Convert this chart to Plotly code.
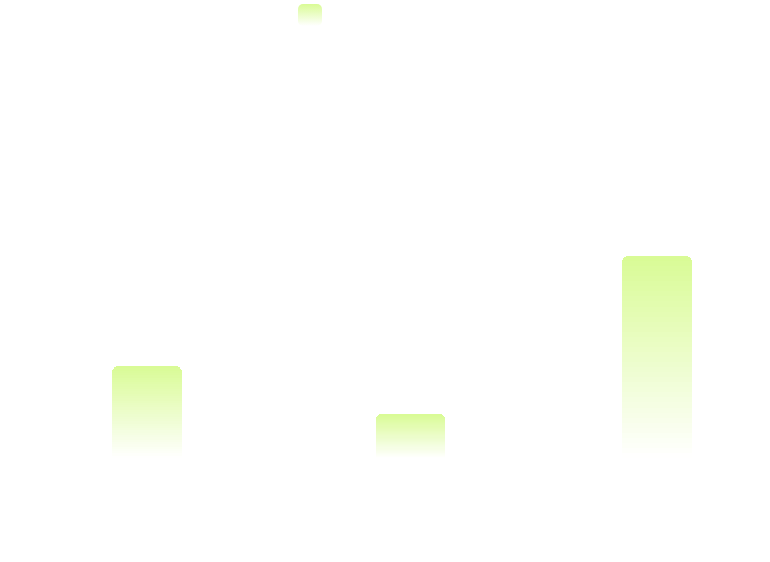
import plotly.graph_objects as go

# monthly totals
dates = ["2024-01-01", "2024-02-01", "2024-03-01"]
values = [46, 22, 101]

# lime at the top of each bar, fading to white at the base
top_rgb = (217, 251, 149)
n_slices = 40
day_ms = 86400000

fig = go.Figure()

# each bar is stacked from thin slices so it can fade top to bottom
for i in range(n_slices):
    t = (i + 0.5) / n_slices
    r, g, b = [round(255 + (c - 255) * t) for c in top_rgb]
    fig.add_trace(go.Bar(
        x=dates,
        y=[v / n_slices for v in values],
        width=8.2 * day_ms,
        marker_color=f"rgb({r},{g},{b})",
        marker_line_width=0,
        hoverinfo="skip",
        showlegend=False,
    ))

# small gradient swatch used as legend key at the top
swatch_svg = (
    "data:image/svg+xml;utf8,"
    "<svg xmlns='http://www.w3.org/2000/svg' width='24' height='22'>"
    "<defs><linearGradient id='g' x1='0' y1='0' x2='0' y2='1'>"
    "<stop offset='0' stop-color='rgb(217,251,149)'/>"
    "<stop offset='1' stop-color='white'/>"
    "</linearGradient></defs>"
    "<rect width='24' height='22' rx='5' ry='5' fill='url(%23g)'/></svg>"
)

fig.update_layout(
    width=770,
    height=562,
    margin=dict(l=0, r=0, t=40, b=104),
    barmode="stack",
    barcornerradius=6,
    paper_bgcolor="white",
    plot_bgcolor="white",
    showlegend=False,
    xaxis=dict(type="date", visible=False,
               range=["2023-12-14 17:00", "2024-03-14 07:00"]),
    yaxis=dict(visible=False, range=[0, 209]),
    images=[dict(
        source=swatch_svg,
        xref="paper", yref="paper",
        x=298 / 770, y=(458 - 4) / 418,
        sizex=24 / 770, sizey=22 / 418,
        sizing="stretch", xanchor="left", yanchor="top",
        layer="above",
    )],
)

# drop the page's default body margin so the chart sits at the corner
fig.write_html("out.html",
               config={"displayModeBar": False},
               post_script="document.body.style.margin='0';"
                           "document.body.style.overflow='hidden';")
